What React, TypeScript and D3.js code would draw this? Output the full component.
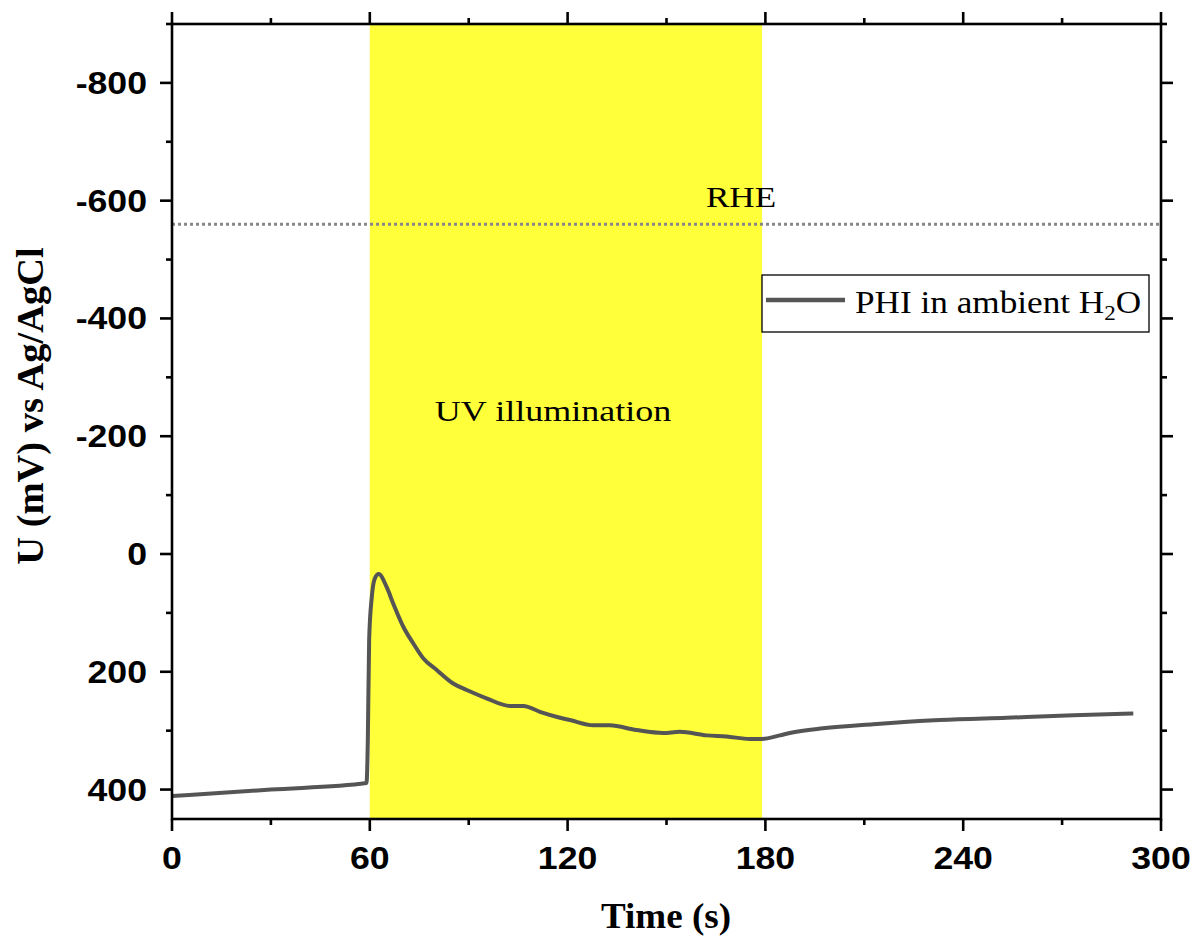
import React from "react";
import * as d3 from "d3";

// Open-circuit potential transient, seconds vs mV (Ag/AgCl)
const timeS = [0, 30, 59, 59.4, 59.8, 60.6, 61.5, 62.7, 65.1, 67.1, 70.2, 73.2, 76.2, 80.3, 85.3, 89.4, 95.4, 102.5, 106.6, 111.6, 117.7, 120.7, 127.8, 132.8, 140.9, 149, 154, 162.2, 168.2, 175.3, 179, 184.4, 187.4, 197.5, 212.7, 232.9, 253.2, 273.4, 291.6];
const potentialMv = [411, 400, 389, 316, 146, 73, 42, 34, 56, 84, 124, 152, 177, 197, 220, 231, 245, 258, 258, 268, 278, 282, 291, 291, 299, 304, 302, 308, 310, 314, 314, 308, 304, 296, 289, 282, 278, 274, 271];

const xMajorTicks = [0, 60, 120, 180, 240, 300];
const xMinorTicks = [30, 90, 150, 210, 270];
const yMajorTicks = [-800, -600, -400, -200, 0, 200, 400];
const yMinorTicks = [-900, -700, -500, -300, -100, 100, 300];

const uvWindow = [60, 179];
const rheLevel = -560;
const seriesName = "PHI in ambient H";

const W = 1193;
const H = 938;
const left = 172;
const right = 1161;
const top = 24;
const bottom = 819;

export default function App() {
  const x = d3.scaleLinear().domain([0, 300]).range([left, right]);
  const y = d3.scaleLinear().domain([-900, 450]).range([top, bottom]);
  const pts: [number, number][] = timeS.map((t, i) => [t, potentialMv[i]]);
  const line = d3
    .line<[number, number]>()
    .x((d) => x(d[0]))
    .y((d) => y(d[1]))
    .curve(d3.curveMonotoneX);

  const axisW = 2.6;
  const major = 12;
  const minor = 6;
  const sans = "'Liberation Sans', Arial, sans-serif";
  const serif = "'Liberation Serif', 'Times New Roman', serif";
  const tickFont = 31;
  const tickSx = 1.15;
  const sx = 1.17;

  return (
    <svg width={W} height={H} style={{ position: "absolute", left: 0, top: 0, background: "#fff" }}>
      {/* UV exposure window */}
      <rect x={x(uvWindow[0])} y={top} width={x(uvWindow[1]) - x(uvWindow[0])} height={bottom - top} fill="#ffff3a" />

      {/* RHE reference level */}
      <line x1={left} x2={right} y1={y(rheLevel)} y2={y(rheLevel)} stroke="#888" strokeWidth={3} strokeDasharray="3 3" />
      <text transform={`translate(${741},${207}) scale(${sx},1)`} textAnchor="middle" fontFamily={serif} fontSize={30}>RHE</text>

      <text transform={`translate(${553},${421}) scale(1.2,1)`} textAnchor="middle" fontFamily={serif} fontSize={30}>UV illumination</text>

      {/* data trace */}
      <path d={line(pts) || ""} fill="none" stroke="#555" strokeWidth={4} strokeLinejoin="round" />

      {/* frame */}
      <rect x={left} y={top} width={right - left} height={bottom - top} fill="none" stroke="#000" strokeWidth={axisW} />

      {/* x ticks bottom and top */}
      {xMajorTicks.map((t) => (
        <g key={"xm" + t}>
          <line x1={x(t)} x2={x(t)} y1={bottom} y2={bottom + major} stroke="#000" strokeWidth={axisW} />
          <line x1={x(t)} x2={x(t)} y1={top} y2={top - major} stroke="#000" strokeWidth={axisW} />
          <text transform={`translate(${x(t)},${869}) scale(${tickSx},1)`} textAnchor="middle" fontFamily={sans} fontWeight="bold" fontSize={tickFont}>{t}</text>
        </g>
      ))}
      {xMinorTicks.map((t) => (
        <g key={"xn" + t}>
          <line x1={x(t)} x2={x(t)} y1={bottom} y2={bottom + minor} stroke="#000" strokeWidth={axisW} />
          <line x1={x(t)} x2={x(t)} y1={top} y2={top - minor} stroke="#000" strokeWidth={axisW} />
        </g>
      ))}

      {/* y ticks left and right */}
      {yMajorTicks.map((v) => (
        <g key={"ym" + v}>
          <line x1={left} x2={left - major} y1={y(v)} y2={y(v)} stroke="#000" strokeWidth={axisW} />
          <line x1={right} x2={right + major} y1={y(v)} y2={y(v)} stroke="#000" strokeWidth={axisW} />
          <text transform={`translate(${147},${y(v) + 11}) scale(${tickSx},1)`} textAnchor="end" fontFamily={sans} fontWeight="bold" fontSize={tickFont}>{v}</text>
        </g>
      ))}
      {yMinorTicks.map((v) => (
        <g key={"yn" + v}>
          <line x1={left} x2={left - minor} y1={y(v)} y2={y(v)} stroke="#000" strokeWidth={axisW} />
          <line x1={right} x2={right + minor} y1={y(v)} y2={y(v)} stroke="#000" strokeWidth={axisW} />
        </g>
      ))}

      {/* axis titles */}
      <text transform={`translate(${666},${928}) scale(1.06,1)`} textAnchor="middle" fontFamily={serif} fontWeight="bold" fontSize={35}>Time (s)</text>
      <text transform={`translate(${43},${406}) rotate(-90) scale(1.1,1.1)`} textAnchor="middle" fontFamily={serif} fontWeight="bold" fontSize={35}>U (mV) vs Ag/AgCl</text>

      {/* legend */}
      <rect x={762} y={275} width={387} height={57} fill="#fff" stroke="#000" strokeWidth={1.3} />
      <line x1={766} x2={845} y1={300} y2={300} stroke="#555" strokeWidth={4.5} />
      <text transform={`translate(${855},${313}) scale(1.1,1)`} fontFamily={serif} fontSize={32}>
        {seriesName}
        <tspan fontSize={21} dy={7}>2</tspan>
        <tspan dy={-7}>O</tspan>
      </text>
    </svg>
  );
}
